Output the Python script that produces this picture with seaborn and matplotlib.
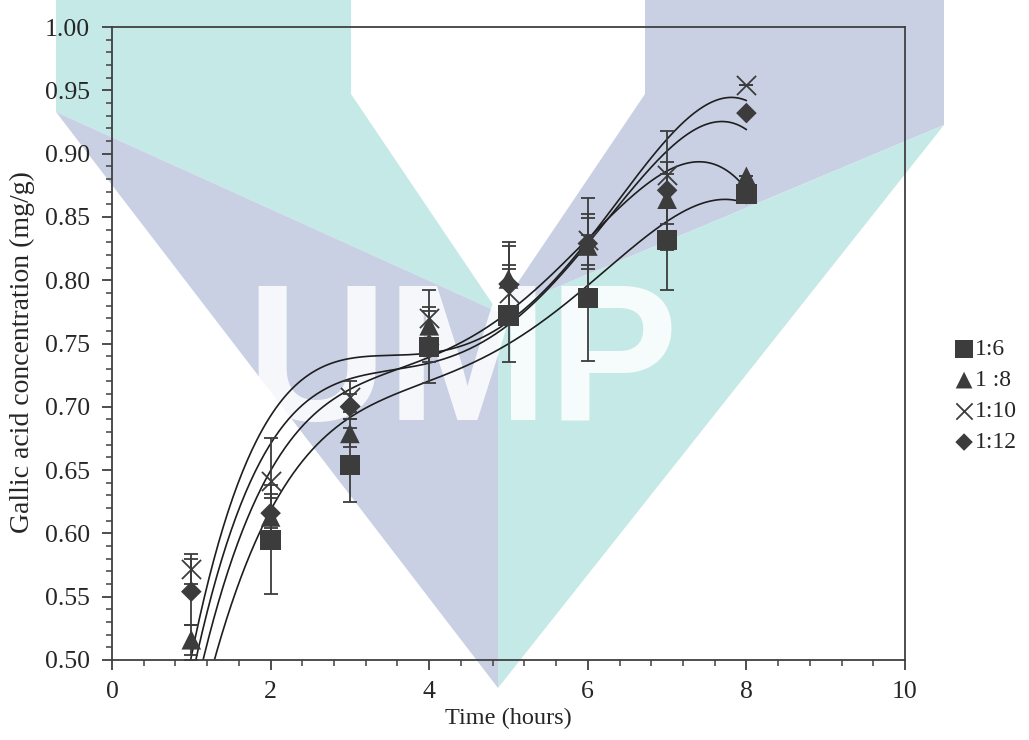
import matplotlib
matplotlib.use('Agg')
import matplotlib.pyplot as plt
import numpy as np
import pandas as pd
import seaborn as sns
from matplotlib.patches import Polygon
from matplotlib.ticker import MultipleLocator, FormatStrFormatter

# Gallic acid yield vs extraction time for four solid:solvent ratios
time_h = [0, 1, 2, 3, 4, 5, 6, 7, 8]
ratios = ['1:6', '1 :8', '1:10', '1:12']
conc_1_6 = [0.0, 0.470, 0.595, 0.654, 0.747, 0.772, 0.786, 0.832, 0.868]
conc_1_8 = [0.0, 0.516, 0.613, 0.679, 0.764, 0.801, 0.827, 0.864, 0.882]
conc_1_10 = [0.0, 0.572, 0.641, 0.708, 0.770, 0.790, 0.832, 0.883, 0.954]
conc_1_12 = [0.0, 0.554, 0.616, 0.700, 0.749, 0.797, 0.829, 0.871, 0.932]
err_1_6 = [0, 0.03, 0.043, 0.029, 0.012, 0.037, 0.050, 0.040, 0]
err_1_8 = [0, 0.012, 0.018, 0.011, 0.012, 0.029, 0.038, 0.020, 0]
err_1_10 = [0, 0.012, 0.034, 0.012, 0.022, 0.022, 0.020, 0.010, 0]
err_1_12 = [0, 0.026, 0.012, 0.010, 0.030, 0.030, 0.020, 0.047, 0]

markers = {'1:6': 's', '1 :8': '^', '1:10': 'x', '1:12': 'D'}
msize = {'1:6': 215, '1 :8': 200, '1:10': 190, '1:12': 110}

df = pd.DataFrame({
    'time': time_h * 4,
    'conc': conc_1_6 + conc_1_8 + conc_1_10 + conc_1_12,
    'err': err_1_6 + err_1_8 + err_1_10 + err_1_12,
    'ratio': [r for r in ratios for _ in time_h],
})

sns.set_style('ticks')
plt.rcParams['font.family'] = ['Liberation Serif', 'DejaVu Serif']

W, H = 1029, 740
fig = plt.figure(figsize=(W / 100, H / 100), dpi=100)
ax = fig.add_axes([112 / W, 1 - 660 / H, (905 - 112) / W, (660 - 27) / H])
ax.patch.set_alpha(0)


# watermark logo (pixel coords, y down)
def px(pts):
    return [(x / W, 1 - y / H) for x, y in pts]


teal = '#c5e9e7'
lav = '#c9d0e4'
wm = [
    (teal, [(56, 0), (351, 0), (351, 94), (498, 312), (56, 112)]),
    (lav, [(56, 112), (498, 312), (498, 688)]),
    (lav, [(645, 0), (944, 0), (944, 125), (498, 312), (645, 94)]),
    (teal, [(944, 125), (498, 312), (498, 688)]),
]
for c, pts in wm:
    fig.add_artist(Polygon(px(pts), closed=True, facecolor=c, edgecolor='none',
                           transform=fig.transFigure, zorder=-10))
fig.text(462 / W, 1 - 420 / H, 'UMP', fontsize=140, fontweight='bold',
         family='Liberation Sans', color='white', alpha=0.85,
         ha='center', va='baseline', zorder=-5)

# polynomial trendlines
grid = np.linspace(0, 8, 400)
for r in ratios:
    sub = df[df['ratio'] == r]
    coef = np.polyfit(sub['time'], sub['conc'], 4)
    sns.lineplot(x=grid, y=np.polyval(coef, grid), color='#1e1e1e', lw=1.2, ax=ax)

for r in ratios:
    sub = df[(df['ratio'] == r) & (df['time'] > 0)]
    ax.errorbar(sub['time'], sub['conc'], yerr=sub['err'], fmt='none',
                ecolor='#3c3c3c', elinewidth=1.3, capsize=5, capthick=1.3, zorder=3)
    kw = dict(linewidth=1.3) if markers[r] == 'x' else dict(edgecolor='none')
    sns.scatterplot(x=sub['time'], y=sub['conc'], marker=markers[r], s=msize[r],
                    color='#3c3c3c', label=r, ax=ax, zorder=4, **kw)

ax.set_xlim(0, 10)
ax.set_ylim(0.5, 1.0)
ax.xaxis.set_major_locator(MultipleLocator(2))
ax.xaxis.set_minor_locator(MultipleLocator(0.4))
ax.yaxis.set_major_locator(MultipleLocator(0.05))
ax.yaxis.set_minor_locator(MultipleLocator(0.01))
ax.yaxis.set_major_formatter(FormatStrFormatter('%.2f'))
ax.tick_params(which='major', direction='out', length=7, width=1.3, color='#404040',
               labelsize=18.5)
ax.tick_params(axis='x', which='major', pad=8)
ax.tick_params(axis='y', which='major', pad=9)
ax.tick_params(which='minor', direction='out', length=4, width=1.1, color='#404040')
for s in ax.spines.values():
    s.set_color('#404040')
    s.set_linewidth(1.3)

ax.set_xlabel('Time (hours)', fontsize=17.5)
ax.set_ylabel('Gallic acid concentration (mg/g)', fontsize=20)
ax.xaxis.set_label_coords((508 - 112) / 793, -(718 - 660) / 633)
ax.yaxis.set_label_coords(-(112 - 22) / 793, (660 - 352) / 633)
ax.xaxis.label.set_va('center')
ax.yaxis.label.set_va('center')

ax.legend(loc='upper left', bbox_to_anchor=(944 / W, 1 - 327 / H),
          bbox_transform=fig.transFigure, frameon=False, fontsize=17,
          handlelength=0.7, handletextpad=0.1, labelspacing=0.4,
          markerscale=0.85, borderpad=0)

fig.savefig('out.png', dpi=100)
